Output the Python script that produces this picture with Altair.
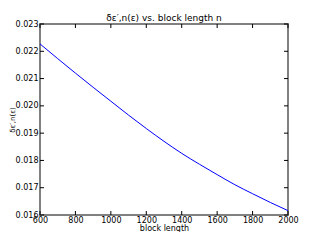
import altair as alt
import pandas as pd

block_length = [600, 700, 800, 900, 1000, 1100, 1200, 1300, 1400, 1500, 1600, 1700, 1800, 1900, 2000]
delta = [0.02227, 0.02173, 0.02120, 0.02068, 0.02017, 0.01966, 0.01917, 0.01870,
         0.01826, 0.01786, 0.01748, 0.01711, 0.01678, 0.01646, 0.01616]
x_ticks = [600, 800, 1000, 1200, 1400, 1600, 1800, 2000]
y_ticks = [0.016, 0.017, 0.018, 0.019, 0.020, 0.021, 0.022, 0.023]

df = pd.DataFrame({"n": block_length, "delta": delta})
xt = pd.DataFrame({"n": x_ticks})
yt = pd.DataFrame({"delta": y_ticks})
W, H = 248, 191
FONT = "DejaVu Sans"
TL = 4

xs = alt.Scale(domain=[600, 2000], nice=False, zero=False)
ys = alt.Scale(domain=[0.016, 0.023], nice=False, zero=False)

x_axis = alt.Axis(orient="bottom", values=x_ticks, ticks=False, domain=False, grid=False,
                  title="block length", labelPadding=1, titlePadding=0, format="d",
                  labelFlush=False, labelFontSize=8, titleFontSize=8,
                  titleFontWeight="normal", labelColor="black", titleColor="black",
                  labelFont=FONT, titleFont=FONT)
y_axis = alt.Axis(orient="left", values=y_ticks, ticks=False, domain=False, grid=False,
                  title="δε′,n(ε)", format=".3f", labelPadding=2, titlePadding=0,
                  labelFontSize=8, titleFontSize=7, titleFontWeight="normal",
                  labelColor="black", titleColor="black", labelFont=FONT, titleFont=FONT,
                  labelFlush=False)

main = alt.Chart(df).mark_line(color="#0000ff", strokeWidth=1, interpolate="monotone").encode(
    x=alt.X("n:Q", scale=xs, axis=x_axis),
    y=alt.Y("delta:Q", scale=ys, axis=y_axis),
)

rule_style = dict(color="black", strokeWidth=1)
bottom_ticks = alt.Chart(xt).mark_rule(**rule_style).encode(
    x=alt.X("n:Q", scale=xs, axis=x_axis), y=alt.value(H), y2=alt.value(H - TL))
top_ticks = alt.Chart(xt).mark_rule(**rule_style).encode(
    x=alt.X("n:Q", scale=xs, axis=x_axis), y=alt.value(0), y2=alt.value(TL))
left_ticks = alt.Chart(yt).mark_rule(**rule_style).encode(
    y=alt.Y("delta:Q", scale=ys, axis=y_axis), x=alt.value(0), x2=alt.value(TL))
right_ticks = alt.Chart(yt).mark_rule(**rule_style).encode(
    y=alt.Y("delta:Q", scale=ys, axis=y_axis), x=alt.value(W), x2=alt.value(W - TL))

chart = alt.layer(main, bottom_ticks, top_ticks, left_ticks, right_ticks).properties(
    width=W, height=H,
    title=alt.TitleParams("δε′,n(ε) vs. block length n", fontSize=9, font=FONT,
                          fontWeight="normal", color="black", offset=-3),
    autosize=alt.AutoSizeParams(type="none"),
    padding={"left": 32, "top": 16, "right": 24, "bottom": 17},
).configure_view(
    stroke="#808080", strokeWidth=2
)

chart.save("out.html", embed_options={"renderer": "svg", "actions": False})
